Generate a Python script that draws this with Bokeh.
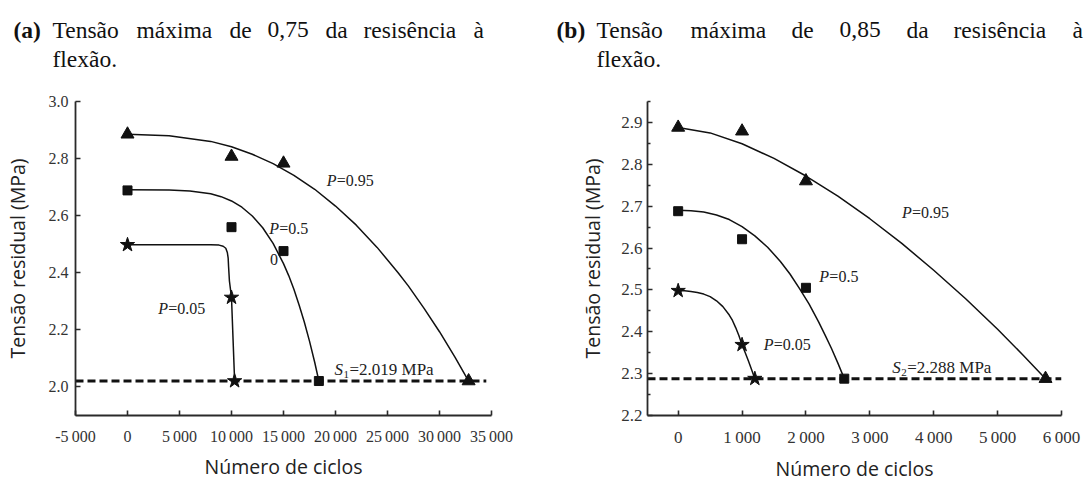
from bokeh.plotting import figure
from bokeh.layouts import row, column
from bokeh.models import FixedTicker
from bokeh.core.properties import value
from bokeh.embed import file_html
from bokeh.resources import INLINE

TS = "\u2009"  # thin space used as thousands separator

# ---------------- panel (a): peak stress 0.75 of flexural strength ----------------
a_x_ticks = [-5000, 0, 5000, 10000, 15000, 20000, 25000, 30000, 35000]
a_x_labels = ["-5" + TS + "000", "0", "5" + TS + "000", "10" + TS + "000", "15" + TS + "000",
              "20" + TS + "000", "25" + TS + "000", "30" + TS + "000", "35" + TS + "000"]
a_y_ticks = [2.0, 2.2, 2.4, 2.6, 2.8, 3.0]
a_y_labels = ["2.0", "2.2", "2.4", "2.6", "2.8", "3.0"]

a_p95_x = [0, 10000, 15000, 32800]
a_p95_y = [2.885, 2.807, 2.783, 2.019]
a_p50_x = [0, 10000, 15000, 18400]
a_p50_y = [2.688, 2.559, 2.475, 2.019]
a_p05_x = [0, 10000, 10300]
a_p05_y = [2.497, 2.312, 2.019]

a_c95_x = [0, 4000, 8000, 10000, 12000, 14000, 16000, 18000, 20000, 22000, 24000, 26000,
           27000, 28500, 30000, 31500, 32800]
a_c95_y = [2.885, 2.880, 2.860, 2.841, 2.815, 2.782, 2.741, 2.692, 2.633, 2.566, 2.488, 2.400,
           2.353, 2.275, 2.192, 2.102, 2.019]
a_c50_x = [0, 4000, 6000, 8000, 9000, 10000, 11000, 12000, 13000, 14000, 15000, 15500, 16000,
           16500, 17000, 17500, 18000, 18400]
a_c50_y = [2.690, 2.689, 2.686, 2.676, 2.666, 2.651, 2.629, 2.598, 2.557, 2.502, 2.431, 2.389,
           2.341, 2.286, 2.226, 2.159, 2.085, 2.019]
a_c05_x = [0, 4000, 8000, 8800, 9200, 9450, 9600, 9680, 9720, 9800, 10000, 10150, 10300]
a_c05_y = [2.497, 2.497, 2.497, 2.496, 2.492, 2.485, 2.470, 2.450, 2.420, 2.370, 2.312, 2.165, 2.019]

a_s = 2.019
a_s_x = [-5000, 34500]

# ---------------- panel (b): peak stress 0.85 of flexural strength ----------------
b_x_ticks = [0, 1000, 2000, 3000, 4000, 5000, 6000]
b_x_labels = ["0", "1" + TS + "000", "2" + TS + "000", "3" + TS + "000", "4" + TS + "000",
              "5" + TS + "000", "6" + TS + "000"]
b_y_ticks = [2.2, 2.3, 2.4, 2.5, 2.6, 2.7, 2.8, 2.9]
b_y_labels = ["2.2", "2.3", "2.4", "2.5", "2.6", "2.7", "2.8", "2.9"]
b_y_minor = [2.25, 2.35, 2.45, 2.55, 2.65, 2.75, 2.85, 2.95]

b_p95_x = [0, 1000, 2000, 5750]
b_p95_y = [2.888, 2.879, 2.760, 2.288]
b_p50_x = [0, 1000, 2000, 2600]
b_p50_y = [2.688, 2.621, 2.505, 2.288]
b_p05_x = [0, 1000, 1200]
b_p05_y = [2.498, 2.369, 2.288]

b_c95_x = [0, 500, 1000, 1500, 2000, 2500, 3000, 3500, 4000, 4500, 5000, 5400, 5750]
b_c95_y = [2.888, 2.875, 2.849, 2.814, 2.772, 2.724, 2.670, 2.611, 2.547, 2.479, 2.406, 2.344, 2.288]
b_c50_x = [0, 200, 400, 600, 800, 1000, 1200, 1400, 1600, 1750, 1900, 2050, 2200, 2300, 2400,
           2500, 2600]
b_c50_y = [2.690, 2.689, 2.686, 2.679, 2.668, 2.651, 2.629, 2.602, 2.568, 2.538, 2.503, 2.466,
           2.423, 2.392, 2.360, 2.325, 2.288]
b_c05_x = [0, 100, 200, 300, 400, 500, 600, 700, 800, 850, 900, 950, 1000, 1050, 1100, 1150, 1200]
b_c05_y = [2.498, 2.498, 2.496, 2.494, 2.490, 2.484, 2.474, 2.460, 2.440, 2.427, 2.410, 2.391,
           2.369, 2.350, 2.330, 2.309, 2.288]

b_s = 2.288
b_s_x = [-480, 6000]

# ---------------- captions ----------------
cap_a = ["(a)", "Tensão", "máxima", "de", "0,75", "da", "resisência", "à"]
cap_b = ["(b)", "Tensão", "máxima", "de", "0,85", "da", "resisência", "à"]
cap_line2 = "flexão."

SERIF = "Liberation Serif"
SANS = "Open Sans"
INK = "#111111"
TXT = "#222222"
HEAD_H = 84
PANEL_H = 484 - HEAD_H


def make_panel(width, x_range, y_range, borders, x_ticks, x_labels, y_ticks, y_labels,
               y_minor, tick_size, label_standoffs):
    left, right, top, bottom = borders
    p = figure(width=width, height=PANEL_H, x_range=x_range, y_range=y_range,
               output_backend="svg", toolbar_location=None,
               min_border_left=left, min_border_right=right,
               min_border_top=top, min_border_bottom=bottom)
    p.outline_line_color = None
    p.grid.visible = False
    p.xaxis.ticker = FixedTicker(ticks=x_ticks)
    p.xaxis.major_label_overrides = dict(zip(x_ticks, x_labels))
    p.yaxis.ticker = FixedTicker(ticks=y_ticks, minor_ticks=y_minor)
    p.yaxis.major_label_overrides = dict(zip(y_ticks, y_labels))
    p.xaxis.axis_label = "Número de ciclos"
    p.yaxis.axis_label = "Tensão residual (MPa)"
    for ax in (p.xaxis[0], p.yaxis[0]):
        ax.axis_line_color = "#2a2a2a"
        ax.axis_line_width = 1.8
        ax.major_tick_line_color = "#2a2a2a"
        ax.major_tick_line_width = 1.6
        ax.major_tick_in = 5
        ax.major_tick_out = 0
        ax.minor_tick_line_color = "#2a2a2a"
        ax.minor_tick_line_width = 1.4
        ax.minor_tick_in = 3
        ax.minor_tick_out = 0
        ax.major_label_text_font = SERIF
        ax.major_label_text_font_size = tick_size
        ax.major_label_text_color = "#333333"
        ax.axis_label_text_font = SANS
        ax.axis_label_text_font_size = "19.5px"
        ax.axis_label_text_font_style = "normal"
        ax.axis_label_text_color = TXT
    p.xaxis.major_label_standoff = label_standoffs[0]
    p.yaxis.major_label_standoff = label_standoffs[1]
    p.xaxis.axis_label_standoff = label_standoffs[2]
    p.yaxis.axis_label_standoff = label_standoffs[3]
    return p


def draw_series(p, cx, cy, mx, my, marker, size):
    p.line(cx, cy, line_color=INK, line_width=1.5, line_join="round")
    p.scatter(mx, my, marker=marker, size=size, fill_color=INK, line_color=INK)


def p_label(p, x, y, rest):
    p.text(x=[x], y=[y], text=["P"], text_font=value(SERIF), text_font_style="italic",
           text_font_size="16px", text_color=TXT, text_baseline="middle")
    p.text(x=[x], y=[y], text=[rest], text_font=value(SERIF), text_font_size="16px",
           text_color=TXT, text_baseline="middle", x_offset=10)


def s_label(p, x, y, sub, rest):
    p.text(x=[x], y=[y], text=["S"], text_font=value(SERIF), text_font_style="italic",
           text_font_size="17px", text_color=TXT, text_baseline="middle")
    p.text(x=[x], y=[y], text=[sub], text_font=value(SERIF), text_font_size="11px",
           text_color=TXT, text_baseline="middle", x_offset=9, y_offset=5)
    p.text(x=[x], y=[y], text=[rest], text_font=value(SERIF), text_font_size="17px",
           text_color=TXT, text_baseline="middle", x_offset=15)


# ---- caption strip (pixel coordinates, y measured from the top) ----
head = figure(width=1087, height=HEAD_H, x_range=(0, 1087), y_range=(HEAD_H, 0),
              output_backend="svg", toolbar_location=None,
              x_axis_location=None, y_axis_location=None,
              min_border=0)
head.outline_line_color = None
head.grid.visible = False

CAP_SIZE = "23.5px"


def caption(words, starts, x2):
    head.text(x=[starts[0]], y=[29], text=[words[0]], text_font=value(SERIF),
              text_font_style="bold", text_font_size=CAP_SIZE, text_color=INK,
              text_baseline="middle")
    head.text(x=starts[1:], y=[29] * (len(words) - 1), text=words[1:], text_font=value(SERIF),
              text_font_size=CAP_SIZE, text_color=INK, text_baseline="middle")
    head.text(x=[x2], y=[58], text=[cap_line2], text_font=value(SERIF),
              text_font_size=CAP_SIZE, text_color=INK, text_baseline="middle")


caption(cap_a, [13, 52, 136, 229, 267, 325, 363, 473], 52)
caption(cap_b, [556, 596, 690, 791, 839, 906, 953, 1072], 596)

# ---- panel (a) ----
pa = make_panel(543, (-5000, 35000), (1.898, 3.0), (72, 52, 98 - HEAD_H, 60),
                a_x_ticks, a_x_labels, a_y_ticks, a_y_labels, [], "16px", (12, 7, 5, 15))
pa.line(a_s_x, [a_s, a_s], line_color=INK, line_width=3, line_dash="8 4")
draw_series(pa, a_c95_x, a_c95_y, a_p95_x, a_p95_y, "triangle", 13)
draw_series(pa, a_c50_x, a_c50_y, a_p50_x, a_p50_y, "square", 9)
draw_series(pa, a_c05_x, a_c05_y, a_p05_x, a_p05_y, "star", 15)
p_label(pa, 19150, 2.722, "=0.95")
p_label(pa, 13620, 2.556, "=0.5")
p_label(pa, 2950, 2.275, "=0.05")
pa.text(x=[13700], y=[2.444], text=["0"], text_font=value(SERIF), text_font_size="16px",
        text_color=TXT, text_baseline="middle")
s_label(pa, 19900, 2.058, "1", "=2.019 MPa")

# ---- panel (b) ----
pb = make_panel(544, (-480, 6000), (2.2, 2.95), (104, 26, 101 - HEAD_H, 58),
                b_x_ticks, b_x_labels, b_y_ticks, b_y_labels, b_y_minor, "17px", (12, 5, 5, 12))
pb.line(b_s_x, [b_s, b_s], line_color=INK, line_width=3, line_dash="8 4")
draw_series(pb, b_c95_x, b_c95_y, b_p95_x, b_p95_y, "triangle", 13)
draw_series(pb, b_c50_x, b_c50_y, b_p50_x, b_p50_y, "square", 9)
draw_series(pb, b_c05_x, b_c05_y, b_p05_x, b_p05_y, "star", 15)
p_label(pb, 3505, 2.684, "=0.95")
p_label(pb, 2210, 2.532, "=0.5")
p_label(pb, 1340, 2.370, "=0.05")
s_label(pb, 3350, 2.315, "2", " =2.288 MPa")

layout = column(head, row(pa, pb))
open("out.html", "w").write(file_html(layout, INLINE))
